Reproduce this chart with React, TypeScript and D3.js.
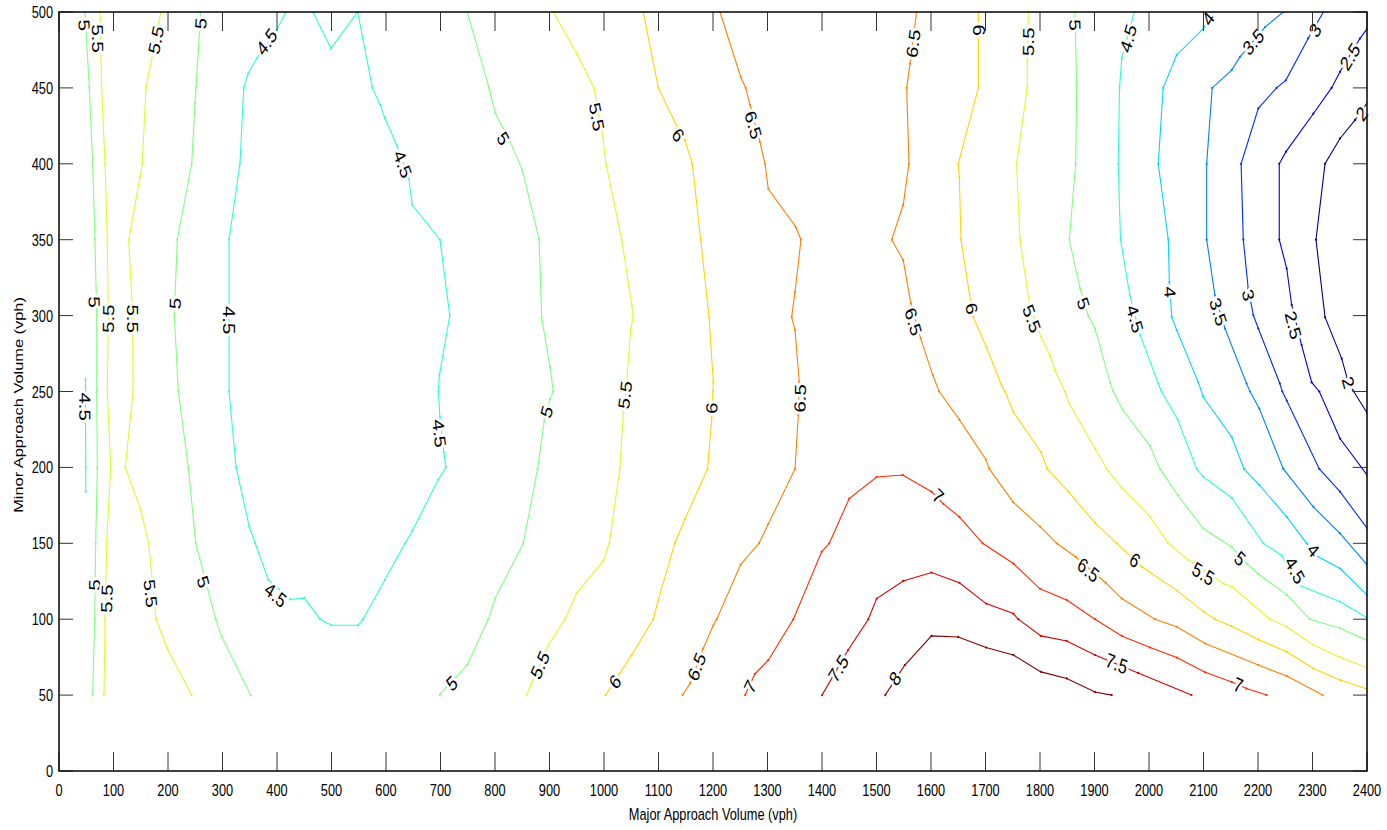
import React from "react";
import * as d3 from "d3";

// ---------- axis ticks ----------
const xTicks = d3.range(0, 2401, 100);
const yTicks = d3.range(0, 501, 50);
const xTitle = "Major Approach Volume (vph)";
const yTitle = "Minor Approach Volume (vph)";

// ---------- contour lines [major vph, minor vph] ----------
const c5_a = [[47.7,500],[55.6,450],[61.8,400],[66,350],[69.2,300],[69.2,250],[70.3,200],[67.3,150],[65.5,100],[61.8,50]];
const c55_a = [[75.2,500],[78.3,450],[84.4,400],[88.6,350],[90.5,300],[88.6,250],[94.9,200],[87.5,150],[84.4,100],[82.6,50]];
const c55_b = [[187,500],[159.6,450],[152.8,400],[148.6,391],[127.9,350],[135.2,300],[135.8,250],[121.7,200],[150,172],[164.6,150],[178,100],[199.4,80],[243.5,50]];
const c5_b = [[260,500],[251.4,450],[249.5,440],[243.5,400],[217,350],[211.6,300],[218.9,250],[237.3,200],[249,157],[250.8,150],[287.5,100],[298.5,88.5],[351.7,50]];
const c45_a = [[48.5,258],[48.5,250],[49,200],[49,184]];
const c45_b = [[416.5,500],[399,488],[363,469.5],[347,459.5],[339,450],[332,400],[312,350],[312,300],[312,250],[325,200],[349,161],[360,150],[384,126],[424,113],[450,114],[479,100],[500,96],[549,96],[558,100],[598,126],[635,150],[648,158],[696,192],[710,200],[706,210],[699,233],[696,250],[698,261],[717,300],[699,350],[648,373],[642,390],[620,412],[598,430],[589,439],[575,450],[548,500],[499,476],[466,500]];
const c5_c = [[749,500],[789,450],[801,433],[827.5,414.6],[850,396],[881,350],[885.6,299],[901,266],[907,250],[901,245],[890.5,231],[878,199],[852,150],[800,113.6],[787.7,100],[749,69.8],[700,51],[699,50]];
const c55_c = [[907,500],[951,472],[981.6,450],[997.6,418],[1003.7,400],[1032.5,350],[1050.8,307],[1053.8,299],[1049,291.5],[1041.6,256],[1035.4,235.6],[1029,199],[1009.7,150],[998.7,138.4],[950,117.3],[928.4,100],[898,83],[867,57.6],[858,50]];
const c6_a = [[1072,500],[1099.7,450],[1135,424],[1148.6,415.6],[1162,400],[1177.4,350],[1192.7,299],[1200.6,256],[1200,250],[1197.6,232],[1190,199],[1148.6,166],[1130,150],[1099.6,112.6],[1090.5,100],[1050.8,76.4],[1003,50]];
const c65_a = [[1212.8,500],[1251,457],[1260,450],[1268,438.7],[1286,414.6],[1295.4,400],[1301.5,383.4],[1351.7,358.5],[1361.5,350],[1350.5,315.6],[1344.3,299],[1350.5,290.5],[1358.4,256],[1356.5,234.5],[1350.5,199],[1301.5,162.7],[1284.4,150],[1250.8,136],[1206.8,100],[1200.6,96],[1182,80.7],[1157.8,57.6],[1144,50]];
const c65_b = [[1573.6,500],[1561.5,466],[1555.4,450],[1559.6,400],[1549,373],[1527.9,350],[1549,336.5],[1563,308],[1581,285],[1603,261],[1615,250],[1652,231.5],[1701,205],[1707,199],[1751,177],[1800,161],[1830.6,150],[1865.5,141],[1920.5,124],[1950,113.6],[2011,100],[2050.8,95],[2103,84],[2200.6,69.8],[2252.7,62.6],[2318.7,50]];
const c6_b = [[1687,500],[1687,450],[1650,400],[1652,391.4],[1655,350],[1672.8,309],[1677.6,299],[1702,279],[1729.7,254],[1735.8,250],[1751,236.6],[1801.8,210],[1813.4,199],[1852,184],[1901,163.4],[1941,150],[1986.6,134.5],[2050.8,119],[2100,105],[2121,100],[2151.7,95.4],[2200.6,86.6],[2252.7,78.5],[2301.5,67.5],[2350.5,60],[2400,54]];
const c55_d = [[1778.6,500],[1776.7,468],[1776.7,450],[1757,400],[1763.3,350],[1780.4,308],[1801.8,286],[1818,274],[1827.5,264],[1845.9,250],[1852,243],[1901,212.4],[1922.4,199],[1950,186.7],[2002,167.4],[2035.4,150],[2072,139],[2136.3,123.5],[2153.6,121],[2222,100],[2252.7,95],[2301.5,83],[2350.5,75],[2400,68]];
const c5_d = [[1864.2,500],[1867.3,450],[1865.5,400],[1853.8,350],[1873.4,318],[1888.6,300],[1901,291.5],[1928.4,256],[1934.5,250],[1951.7,238],[2002,214],[2020,199],[2052.6,181.8],[2099.6,159.7],[2151.7,147.6],[2179,136.7],[2200.6,129.8],[2252.7,116],[2295.4,100],[2350.5,94],[2400,86]];
const c45_c = [[1973,500],[1950,469.4],[1945.9,450],[1943.5,400],[1947.7,350],[1964.8,313.4],[1984,287],[2017,255.3],[2023,250],[2052.6,231.5],[2087.5,199],[2099.6,193.7],[2151.7,180],[2209.7,150],[2243.5,142],[2271,123],[2350.5,111.5],[2400,101]];
const c4_a = [[2118,500],[2099.6,489],[2050.8,471.7],[2026,450],[2017,400],[2035.4,350],[2037.3,322],[2041.7,299],[2050.8,290.5],[2090.5,256],[2099.6,246.4],[2151.7,220],[2174.3,199],[2202.4,188.4],[2252.7,167.4],[2289.4,150],[2304.6,142.3],[2350.5,133.4],[2400,116]];
const c35_a = [[2246.4,500],[2213,490],[2167,470.4],[2151.7,461.7],[2116,450],[2105.8,400],[2105.8,350],[2121,313.4],[2139.4,291.5],[2179,255.3],[2185.3,250],[2202.4,238.8],[2246.4,199],[2301.5,174],[2350.5,156.5],[2400,136]];
const c3_a = [[2320,500],[2292,482.6],[2251,455],[2234,450],[2200.6,436.5],[2169,400],[2173,350],[2182,318],[2191.4,300.4],[2200.6,291.5],[2240,255.3],[2244.6,250],[2252.7,244],[2312.5,199],[2350.5,184],[2400,160]];
const c25_a = [[2400,489],[2387,482.5],[2350.5,460.6],[2335,450],[2301.5,433],[2251.4,408],[2239,400],[2239,350],[2252.7,331],[2261.8,307],[2280,280.6],[2298.5,256],[2312.5,250],[2350.5,219],[2400,195]];
const c2_a = [[2400,440],[2378,428.8],[2350.5,416.7],[2323,400],[2306.4,350],[2323,299],[2353.6,271.7],[2365.7,256],[2375,250.3],[2400,236]];
const c7_a = [[1259,50],[1277,64],[1301.5,73],[1347.5,100],[1399.4,144.4],[1413.4,150],[1450,179.5],[1500.3,193.7],[1548,195],[1601,184],[1622.6,176],[1652,167.4],[1694.8,150],[1751,136.7],[1800,120],[1849,112.6],[1901,100],[1950,89],[2002,81.3],[2050.8,74.7],[2103,65],[2151.7,58.7],[2179,54.3],[2215.8,50]];
const c75_a = [[1400,50],[1448,79.7],[1485,100],[1500.3,113.6],[1549,125.2],[1601,130.7],[1652,124],[1701,110.3],[1751,103.7],[1760,100],[1801.8,89],[1849,85.7],[1901,76.4],[1980,64.6],[2078,50]];
const c8_a = [[1516,50],[1552,69.8],[1601,89],[1650,88.3],[1701,81.3],[1751,76.4],[1801.8,65.3],[1849,61],[1901,52],[1931.6,50]];

// ---------- inline label positions ----------
const l5_a = [[46.4,491.4],[64.8,309],[64.8,122.5]];
const l55_a = [[71,482.6],[90.5,298],[87.5,113.6]];
const l55_b = [[178,481.6],[135.2,298],[168,117]];
const l5_b = [[260,492.5],[212.8,308],[264.8,124.6]];
const l45_a = [[47.7,240]];
const l45_b = [[381,480.4],[310.7,297],[397.6,116],[697.8,222.5],[630.6,400]];
const l5_c = [[815.2,416.7],[894.9,236.6],[720.5,57.8]];
const l55_c = [[986.6,431],[1038.5,247.7],[882.6,69.8]];
const l6_a = [[1136.3,419],[1197.6,239],[1020.2,58.8]];
const l65_a = [[1274,425.6],[1359.6,245.5],[1170,68.7]];
const l65_b = [[1567.5,479.3],[1567.5,296],[1888.6,132.4]];
const l6_b = [[1686.8,488],[1674.7,304.7],[1974.3,139]];
const l55_d = [[1778.5,480.4],[1784.8,298],[2099.6,130]];
const l5_d = [[1864.2,491.4],[1879.4,308],[2167,140]];
const l45_c = [[1962,482.6],[1974.3,298],[2267.9,132.4]];
const l4_a = [[2108.8,495.7],[2038.5,315.6],[2301.5,145.6]];
const l35_a = [[2191.4,480.4],[2127.2,302.5]];
const l3_a = [[2304.6,488],[2182.2,313.6]];
const l25_a = [[2368.8,470.6],[2264.8,293.8]];
const l2_a = [[2390.3,433],[2365.7,256]];
const l7_a = [[1268,55.5],[1613.4,181],[2163.9,56.7]];
const l75_a = [[1430,67.5],[1940.7,70.8]];
const l8_a = [[1534,61]];

const contours = [
  { level: 5, pts: c5_a, labels: l5_a },
  { level: 5.5, pts: c55_a, labels: l55_a },
  { level: 5.5, pts: c55_b, labels: l55_b },
  { level: 5, pts: c5_b, labels: l5_b },
  { level: 4.5, pts: c45_a, labels: l45_a },
  { level: 4.5, pts: c45_b, labels: l45_b },
  { level: 5, pts: c5_c, labels: l5_c },
  { level: 5.5, pts: c55_c, labels: l55_c },
  { level: 6, pts: c6_a, labels: l6_a },
  { level: 6.5, pts: c65_a, labels: l65_a },
  { level: 6.5, pts: c65_b, labels: l65_b },
  { level: 6, pts: c6_b, labels: l6_b },
  { level: 5.5, pts: c55_d, labels: l55_d },
  { level: 5, pts: c5_d, labels: l5_d },
  { level: 4.5, pts: c45_c, labels: l45_c },
  { level: 4, pts: c4_a, labels: l4_a },
  { level: 3.5, pts: c35_a, labels: l35_a },
  { level: 3, pts: c3_a, labels: l3_a },
  { level: 2.5, pts: c25_a, labels: l25_a },
  { level: 2, pts: c2_a, labels: l2_a },
  { level: 7, pts: c7_a, labels: l7_a },
  { level: 7.5, pts: c75_a, labels: l75_a },
  { level: 8, pts: c8_a, labels: l8_a },
];

// ---------- layout ----------
const W = 1387, H = 830;
const L = 59, R = 1367, T = 12, B = 771;
const ASPECT = 0.78; // horizontal squeeze of the text in the original picture
const FONT = "'Liberation Sans', Arial, Helvetica, sans-serif";

const x = d3.scaleLinear().domain([0, 2400]).range([L, R]);
const y = d3.scaleLinear().domain([0, 500]).range([B, T]);

function jet(level: number) {
  const t = (level - 2) / 6;
  const c = (v: number) => Math.max(0, Math.min(1, v));
  const r = c(1.5 - Math.abs(4 * t - 3));
  const g = c(1.5 - Math.abs(4 * t - 2));
  const b = c(1.5 - Math.abs(4 * t - 1));
  return d3.rgb(r * 255, g * 255, b * 255).formatHex();
}

const line = d3.line<number[]>().x((d) => x(d[0])).y((d) => y(d[1]));

function labelAngle(pts: number[][], lx: number, ly: number) {
  const px = x(lx), py = y(ly);
  let best = Infinity, ang = 0;
  for (let i = 0; i < pts.length - 1; i++) {
    const ax = x(pts[i][0]), ay = y(pts[i][1]);
    const bx = x(pts[i + 1][0]), by = y(pts[i + 1][1]);
    const dx = bx - ax, dy = by - ay;
    const len2 = dx * dx + dy * dy || 1;
    let u = ((px - ax) * dx + (py - ay) * dy) / len2;
    u = Math.max(0, Math.min(1, u));
    const qx = ax + u * dx, qy = ay + u * dy;
    const dd = (qx - px) ** 2 + (qy - py) ** 2;
    if (dd < best) {
      best = dd;
      ang = (Math.atan2(dy, dx / ASPECT) * 180) / Math.PI;
    }
  }
  if (ang > 90) ang -= 180;
  if (ang < -90) ang += 180;
  return ang;
}

const fmt = (v: number) => String(v);

export default function App() {
  return (
    <svg
      width={W}
      height={H}
      style={{ position: "fixed", left: 0, top: 0, background: "#fff" }}
      fontFamily={FONT}
    >
      <defs>
        <clipPath id="plotclip">
          <rect x={L} y={T} width={R - L} height={B - T} />
        </clipPath>
      </defs>
      <rect x={0} y={0} width={W} height={H} fill="#fff" />

      {/* contour lines */}
      <g clipPath="url(#plotclip)">
        {contours.map((c, i) => (
          <path key={"l" + i} d={line(c.pts) || ""} fill="none" stroke={jet(c.level)} strokeWidth={1.1} />
        ))}
        {contours.map((c, i) =>
          c.pts.map((p, j) => (
            <circle key={"m" + i + "-" + j} cx={x(p[0])} cy={y(p[1])} r={1.1} fill={jet(c.level)} />
          ))
        )}
      </g>

      {/* inline labels */}
      {contours.map((c, i) =>
        c.labels.map((lb, j) => {
          const a = labelAngle(c.pts, lb[0], lb[1]);
          return (
            <g key={"t" + i + "-" + j} transform={`translate(${x(lb[0])},${y(lb[1])}) scale(${ASPECT},1) rotate(${a})`}>
              <text
                textAnchor="middle"
                dominantBaseline="central"
                fontSize={20.5}
                fill="#000"
                stroke="#fff"
                strokeWidth={6}
                strokeLinejoin="round"
                style={{ paintOrder: "stroke" }}
              >
                {fmt(c.level)}
              </text>
            </g>
          );
        })
      )}

      {/* ticks */}
      {xTicks.map((v) => (
        <g key={"xt" + v} stroke="#333" strokeWidth={1}>
          <line x1={x(v)} x2={x(v)} y1={B} y2={B - 19} />
          <line x1={x(v)} x2={x(v)} y1={T} y2={T + 19} />
        </g>
      ))}
      {yTicks.map((v) => (
        <g key={"yt" + v} stroke="#333" strokeWidth={1}>
          <line x1={L} x2={L + 14} y1={y(v)} y2={y(v)} />
          <line x1={R} x2={R - 14} y1={y(v)} y2={y(v)} />
        </g>
      ))}

      {/* frame */}
      <rect x={L} y={T} width={R - L} height={B - T} fill="none" stroke="#111" strokeWidth={1.6} />

      {/* tick labels */}
      {xTicks.map((v) => (
        <text key={"xl" + v} transform={`translate(${x(v)},796) scale(${ASPECT},1)`} textAnchor="middle" fontSize={16.4} fill="#000">
          {v}
        </text>
      ))}
      {yTicks.map((v) => (
        <text key={"yl" + v} transform={`translate(53,${y(v) + 6}) scale(${ASPECT},1)`} textAnchor="end" fontSize={16.4} fill="#000">
          {v}
        </text>
      ))}

      {/* axis titles */}
      <text transform={`translate(${(L + R) / 2},820) scale(${ASPECT},1)`} textAnchor="middle" fontSize={16.4} fill="#000">
        {xTitle}
      </text>
      <text transform={`translate(23,405) scale(${ASPECT},1) rotate(-90)`} textAnchor="middle" fontSize={16.4} fill="#000">
        {yTitle}
      </text>
    </svg>
  );
}
